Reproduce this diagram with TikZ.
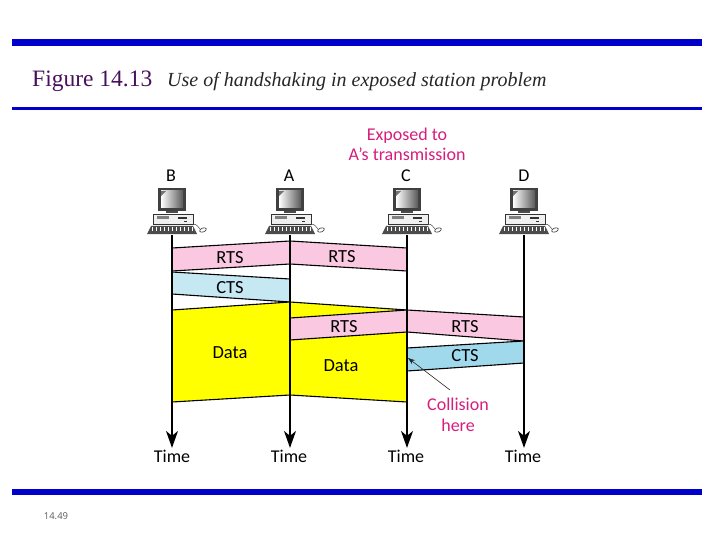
\documentclass[tikz,border=0pt]{standalone}
\usepackage{fontspec}
\setmainfont{Liberation Serif}
\newfontfamily\figfont{Carlito}
\newfontfamily\pagefont{Open Sans}
\usetikzlibrary{positioning, arrows.meta, calc}

\definecolor{barblue}{RGB}{0,0,204}
\definecolor{titlepurple}{RGB}{72,16,92}
\definecolor{notepink}{RGB}{214,30,125}
\definecolor{rtspink}{RGB}{250,200,225}
\definecolor{ctspale}{RGB}{197,232,243}
\definecolor{ctsdeep}{RGB}{160,217,236}
\definecolor{datayellow}{RGB}{255,255,0}

% Band between two lifelines: fill colour, then the four corners
\newcommand{\band}[5]{
    \fill[#1] #2 -- #3 -- #4 -- #5 -- cycle;
    \draw[bandedge] #2 -- #3;
    \draw[bandedge] #4 -- #5;
}

\begin{document}
\begin{tikzpicture}[
    x=1pt, y=-1pt,
    % Node styles
    barline/.style={fill=barblue},
    stationlabel/.style={font=\figfont\fontsize{18}{20}\selectfont, inner sep=0pt, anchor=base},
    bandlabel/.style={font=\figfont\fontsize{18.5}{20}\selectfont, inner sep=0pt, anchor=base, text=black},
    notelabel/.style={font=\figfont\fontsize{18}{20}\selectfont, inner sep=0pt, anchor=base, text=notepink},
    pcbox/.style={minimum width=50pt, minimum height=46pt, inner sep=0pt},
    % Arrow styles
    bandedge/.style={line width=1.1pt, black},
    lifeline/.style={-{Stealth[length=17pt, width=12pt, inset=5pt]}, line width=1.5pt, shorten >=1.5pt},
    hitarrow/.style={-{Stealth[length=7pt, width=5pt]}, line width=0.6pt, black!85},
    computer/.pic={
        % monitor
        \fill[black!75] (-14,-24) rectangle (14,-1);
        \shade[left color=white, right color=black!65] (-11,-21) rectangle (11,-4);
        \fill[black!55] (-11,-21) -- (-6,-21) -- (-11,-16) -- cycle;
        \fill[black!70] (-6,-1) rectangle (6,1);
        % case
        \draw[black!80, fill=black!6, line width=0.5pt] (-19,2) rectangle (21,12);
        \fill[black!50] (-15,4.5) rectangle (-3,7.5);
        \fill[black!80] (6,5.5) rectangle (15,7);
        \fill[black!80] (12,9) rectangle (15,10.5);
        % keyboard
        \fill[black!70] (-21,14) -- (21,14) -- (25,22) -- (-25,22) -- cycle;
        \foreach \kx in {-20,-16,...,20} {
            \draw[white, line width=0.4pt] (\kx,15) -- (\kx,19);
        }
        % mouse and cord
        \draw[black!70, line width=0.5pt] (21,12) .. controls (25,12) and (26,15) .. (28,17);
        \draw[black!80, fill=white, line width=0.6pt, rotate around={20:(31,18)}] (31,18) ellipse (3.5 and 2);
    },
]

% ============================================================
% PAGE FRAME
% ============================================================
\useasboundingbox (0,0) rectangle (720,540);

\fill[barline] (12,39) rectangle (702,46);
\fill[barline] (12,107) rectangle (702,110);
\fill[barline] (12,489) rectangle (702,495);

\node[font=\fontsize{23.5}{26}\selectfont, text=titlepurple, inner sep=0pt, anchor=base west] (figno) at (32,87) {Figure 14.13};
\node[font=\fontsize{20}{22}\selectfont\itshape, text=black!85, inner sep=0pt, anchor=base west] (caption) at (167,87) {Use of handshaking in exposed station problem};
\node[font=\pagefont\fontsize{9.5}{11}\selectfont, text=black!65, inner sep=0pt, anchor=base] (pageno) at (56,519) {14.49};

% ============================================================
% STATIONS
% ============================================================
\node[stationlabel] (labelB) at (171,182) {B};
\node[stationlabel] (labelA) at (289,182) {A};
\node[stationlabel] (labelC) at (406,182) {C};
\node[stationlabel] (labelD) at (524,182) {D};

\node[pcbox] (pcB) at (172,212) {};
\node[pcbox] (pcA) at (290,212) {};
\node[pcbox] (pcC) at (407,212) {};
\node[pcbox] (pcD) at (524,212) {};
\pic at (pcB) {computer};
\pic at (pcA) {computer};
\pic at (pcC) {computer};
\pic at (pcD) {computer};

\node[notelabel] (exposed) at (407,141) {Exposed to};
\node[notelabel] (exposedb) at (407,161) {A’s transmission};

\node[stationlabel] (timeB) at (172,462) {Time};
\node[stationlabel] (timeA) at (289,462) {Time};
\node[stationlabel] (timeC) at (406,462) {Time};
\node[stationlabel] (timeD) at (523,462) {Time};

% ============================================================
% BANDS
% ============================================================

% A sends RTS both ways
\band{rtspink}{(172,248)}{(290,241)}{(290,264)}{(172,271)}
\band{rtspink}{(290,241)}{(407,248)}{(407,271)}{(290,264)}

% B answers
\band{ctspale}{(172,272)}{(290,279)}{(290,302)}{(172,294)}

% A sends data both ways
\band{datayellow}{(172,310)}{(290,302)}{(290,395)}{(172,402)}
\band{datayellow}{(290,302)}{(407,310)}{(407,402)}{(290,395)}

% C sends RTS both ways
\band{rtspink}{(290,318)}{(407,310)}{(407,332)}{(290,340)}
\band{rtspink}{(407,310)}{(524,317)}{(524,341)}{(407,332)}

% D answers
\band{ctsdeep}{(407,348)}{(524,341)}{(524,363)}{(407,371)}

\node[bandlabel] (rtsBA) at (230,263) {RTS};
\node[bandlabel] (rtsAC) at (342,262) {RTS};
\node[bandlabel] (ctsBA) at (230,293) {CTS};
\node[bandlabel] (dataB) at (230,358) {Data};
\node[bandlabel] (rtsCA) at (344,332) {RTS};
\node[bandlabel] (dataA) at (341,371) {Data};
\node[bandlabel] (rtsCD) at (465,332) {RTS};
\node[bandlabel] (ctsCD) at (465,361) {CTS};

% ============================================================
% LIFELINES AND COLLISION NOTE
% ============================================================
\draw[lifeline] (pcB.south) -- (pcB.south |- timeB.north);
\draw[lifeline] (pcA.south) -- (pcA.south |- timeA.north);
\draw[lifeline] (pcC.south) -- (pcC.south |- timeC.north);
\draw[lifeline] (pcD.south) -- (pcD.south |- timeD.north);

\node[notelabel] (collision) at (458,410) {Collision};
\node[notelabel] (here) at (458,431) {here};

\coordinate (hitfrom) at (450,390);
\coordinate (hitat) at (408,358);
\draw[hitarrow] (hitfrom) -- (hitat);

\end{tikzpicture}
\end{document}
